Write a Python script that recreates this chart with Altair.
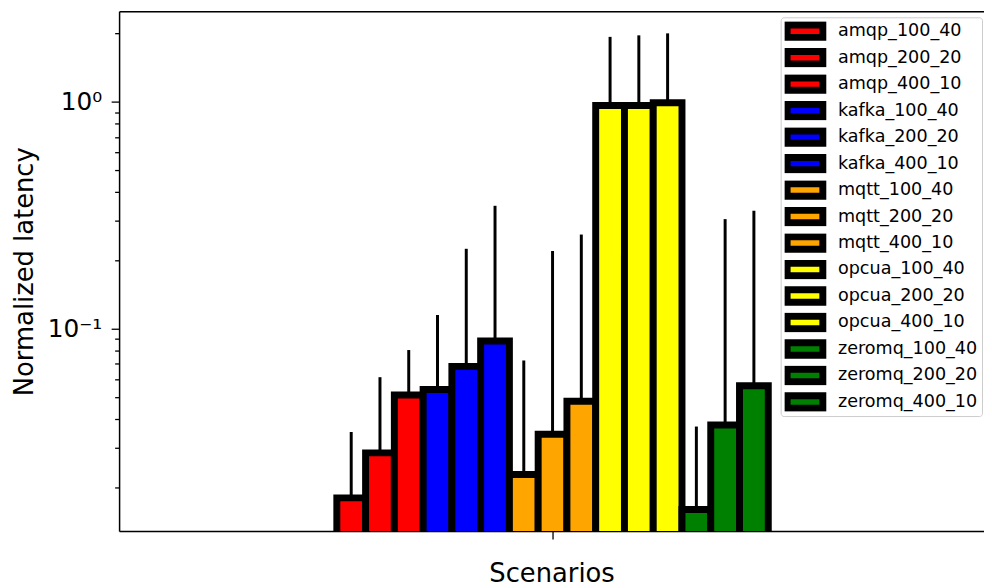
import altair as alt
import pandas as pd

scenarios = ["amqp_100_40", "amqp_200_20", "amqp_400_10",
             "kafka_100_40", "kafka_200_20", "kafka_400_10",
             "mqtt_100_40", "mqtt_200_20", "mqtt_400_10",
             "opcua_100_40", "opcua_200_20", "opcua_400_10",
             "zeromq_100_40", "zeromq_200_20", "zeromq_400_10"]
latency = [0.0180, 0.0284, 0.0511, 0.0540, 0.0683, 0.0883,
           0.0228, 0.0343, 0.0479, 0.963, 0.963, 0.990,
           0.0160, 0.0377, 0.0561]
err_top = [0.0351, 0.0612, 0.0806, 0.115, 0.225, 0.348,
           0.0725, 0.220, 0.260, 1.93, 1.96, 2.00,
           0.0371, 0.304, 0.331]
colors = ["#ff0000"] * 3 + ["#0000ff"] * 3 + ["#ffa500"] * 3 + ["#ffff00"] * 3 + ["#008000"] * 3
y_ticks = [0.02, 0.03, 0.04, 0.05, 0.06, 0.07, 0.08, 0.09, 0.1,
           0.2, 0.3, 0.4, 0.5, 0.6, 0.7, 0.8, 0.9, 1, 2]

n = len(scenarios)
df = pd.DataFrame({"scenario": scenarios, "latency": latency, "err": err_top})
df["slot"] = [i - (n - 1) / 2 for i in range(n)]
df["lo"] = df["slot"] - 0.5
df["hi"] = df["slot"] + 0.5

FONT = "DejaVu Sans"
x_scale = alt.Scale(domain=[-15.07, 15.0], nice=False, zero=False)
y_scale = alt.Scale(type="log", domain=[0.01285, 2.50], nice=False)

y_axis = alt.Axis(
    values=y_ticks,
    labelExpr="datum.value === 1 ? '10⁰' : (datum.value === 0.1 ? '10⁻¹' : '')",
    labelFont=FONT, labelFontSize=25, labelColor="black", labelPadding=9.5,
    labelOverlap=False,
    tickSize={"condition": {"test": "datum.value === 1 || datum.value === 0.1", "value": 8}, "value": 4.5},
    tickColor="black", tickWidth=1.3,
    domainColor="black", domainWidth=1.5, grid=False,
    title="Normalized latency", titleFont=FONT, titleFontSize=26,
    titleFontWeight="normal", titleColor="black", titlePadding=10,
)

rules = alt.Chart(df).mark_rule(color="black", strokeWidth=3).encode(
    x=alt.X("slot:Q", scale=x_scale,
            axis=alt.Axis(orient="top", labels=False, ticks=False, title=None,
                          domainColor="black", domainWidth=1.5, grid=False)),
    y=alt.Y("latency:Q", scale=y_scale, axis=y_axis),
    y2="err:Q",
)

bars = alt.Chart(df).mark_bar(stroke="black", strokeWidth=7, clip=True, opacity=1).encode(
    x=alt.X("lo:Q", scale=x_scale,
            axis=alt.Axis(orient="bottom", values=[0], labels=False, tickSize=8,
                          tickColor="black", tickWidth=1.3, domainColor="black",
                          domainWidth=1.5, grid=False, title="Scenarios",
                          titleFont=FONT, titleFontSize=26, titleFontWeight="normal",
                          titleColor="black", titlePadding=21.5)),
    x2="hi:Q",
    y=alt.Y("latency:Q", scale=y_scale, axis=y_axis),
    y2=alt.datum(0.001),
    fill=alt.Fill("scenario:N", scale=alt.Scale(domain=scenarios, range=colors),
                  legend=alt.Legend(
                      title=None, orient="none", legendX=667, legendY=6,
                      padding=4, fillColor="white", strokeColor="#cccccc",
                      cornerRadius=3, labelFont=FONT, labelFontSize=17.7,
                      labelColor="black",
                      symbolType="M-2.77,-0.96H2.77V0.96H-2.77Z",
                      symbolSize=169, symbolStrokeColor="black",
                      symbolStrokeWidth=7, symbolOpacity=1, symbolOffset=10.5,
                      clipHeight=20, rowPadding=6.7, labelOffset=23.3,
                      labelLimit=300)),
)

chart = alt.layer(rules, bars).resolve_axis(x="independent").properties(
    width=872, height=524,
    autosize=alt.AutoSizeParams(type="none"),
    padding={"left": 112, "top": 1, "right": 0, "bottom": 56},
).configure_view(stroke=None).configure(background="white")

chart.save("out.html", embed_options={"renderer": "svg", "actions": False})
